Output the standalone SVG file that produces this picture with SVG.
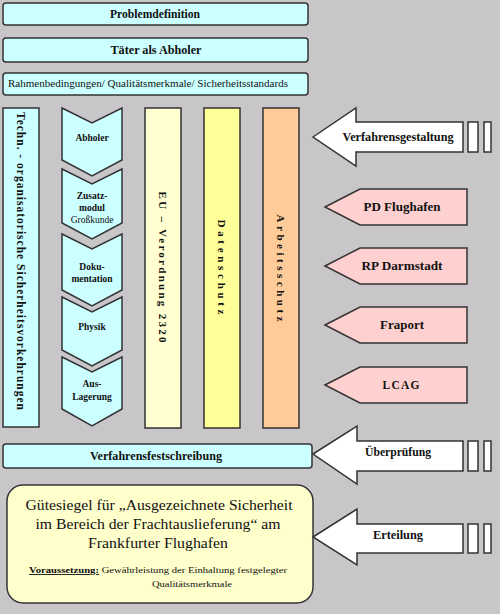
<svg xmlns="http://www.w3.org/2000/svg" width="500" height="614" viewBox="0 0 500 614">
<style>
.bg{fill:#C9C6C9}
.box{stroke:#333;stroke-width:1.5}
.cyan{fill:#CCFFFF}
.lyel{fill:#FFFFD2}
.yel{fill:#FFFF99}
.org{fill:#FFCC99}
.pink{fill:#FFD0D0}
.wht{fill:#FFFFFF}
.cream{fill:#FFFFCC}
text{font-family:'Liberation Serif','Times New Roman',serif;fill:#111;text-anchor:middle}
.b{font-weight:bold}
.vt{font-weight:bold;dominant-baseline:central}
</style>
<rect class="bg" x="0" y="0" width="500" height="614"/>

<g id="problemdefinition">
<rect class="box cyan" x="3" y="3" width="305" height="22" rx="3"/>
<text class="b" x="155" y="18" font-size="12" textLength="90" lengthAdjust="spacingAndGlyphs">Problemdefinition</text>
</g>
<g id="taeter">
<rect class="box cyan" x="3" y="38" width="305" height="24" rx="3"/>
<text class="b" x="156" y="54" font-size="12" textLength="91" lengthAdjust="spacingAndGlyphs">Täter als Abholer</text>
</g>
<g id="rahmen">
<rect class="box cyan" x="3" y="73" width="305" height="22" rx="3"/>
<text x="148" y="87" font-size="9.5" textLength="280" lengthAdjust="spacingAndGlyphs">Rahmenbedingungen/ Qualitätsmerkmale/ Sicherheitsstandards</text>
</g>

<g id="techn">
<rect class="box cyan" x="3" y="108" width="36" height="319"/>
<text class="vt" transform="translate(21,261) rotate(90)" font-size="11.5" textLength="298" lengthAdjust="spacing">Techn. - organisatorische Sicherheitsvorkehrungen</text>
</g>

<g id="abholer">
<path class="box cyan" d="M62,108 L92,123 L122,108 L122,160 L92,176 L62,160 Z"/>
<text class="b" x="92" y="141" font-size="9.5">Abholer</text>
</g>
<g id="zusatzmodul">
<path class="box cyan" d="M62,169 L92,184 L122,169 L122,223 L92,239 L62,223 Z"/>
<text class="b" x="92" y="199" font-size="9.5">Zusatz-</text>
<text class="b" x="92" y="211" font-size="9.5">modul</text>
<text x="92" y="223" font-size="9.5">Großkunde</text>
</g>
<g id="dokumentation">
<path class="box cyan" d="M62,234 L92,249 L122,234 L122,290 L92,306 L62,290 Z"/>
<text class="b" x="92" y="270" font-size="9.5">Doku-</text>
<text class="b" x="92" y="282" font-size="9.5">mentation</text>
</g>
<g id="physik">
<path class="box cyan" d="M62,297 L92,312 L122,297 L122,350 L92,366 L62,350 Z"/>
<text class="b" x="92" y="330" font-size="9.5">Physik</text>
</g>
<g id="auslagerung">
<path class="box cyan" d="M62,357 L92,372 L122,357 L122,409 L92,426 L62,409 Z"/>
<text class="b" x="92" y="387" font-size="9.5">Aus-</text>
<text class="b" x="92" y="400" font-size="9.5">Lagerung</text>
</g>

<g id="eu">
<rect class="box lyel" x="145" y="108" width="36" height="320"/>
<text class="vt" transform="translate(163,267) rotate(90)" font-size="11" textLength="151" lengthAdjust="spacing">EU – Verordnung  2320</text>
</g>
<g id="datenschutz">
<rect class="box yel" x="204" y="108" width="36" height="320"/>
<text class="vt" transform="translate(222,267) rotate(90)" font-size="11" textLength="95" lengthAdjust="spacing">Datenschutz</text>
</g>
<g id="arbeitsschutz">
<rect class="box org" x="263" y="108" width="36" height="320"/>
<text class="vt" transform="translate(281,268) rotate(90)" font-size="11" textLength="107" lengthAdjust="spacing">Arbeitsschutz</text>
</g>

<g id="verfahrensgestaltung">
<path class="box wht" d="M313,137 L356,108 L356,122 L463,122 L463,152 L356,152 L356,166 Z"/>
<rect class="box wht" x="468" y="122" width="10" height="30"/>
<rect class="box wht" x="484" y="122" width="7" height="30"/>
<text class="b" x="398" y="141" font-size="11.5" textLength="111" lengthAdjust="spacingAndGlyphs">Verfahrensgestaltung</text>
</g>

<g id="pd">
<path class="box pink" d="M325,207 L360,189 L467,189 L467,225 L360,225 Z"/>
<text class="b" x="402" y="211" font-size="11.5" textLength="77" lengthAdjust="spacingAndGlyphs">PD Flughafen</text>
</g>
<g id="rp">
<path class="box pink" d="M325,266 L360,248 L467,248 L467,284 L360,284 Z"/>
<text class="b" x="402" y="270" font-size="11.5" textLength="81" lengthAdjust="spacingAndGlyphs">RP Darmstadt</text>
</g>
<g id="fraport">
<path class="box pink" d="M325,325 L360,307 L467,307 L467,343 L360,343 Z"/>
<text class="b" x="402" y="329" font-size="11.5" textLength="44" lengthAdjust="spacingAndGlyphs">Fraport</text>
</g>
<g id="lcag">
<path class="box pink" d="M325,385 L360,367 L467,367 L467,403 L360,403 Z"/>
<text class="b" x="401" y="389" font-size="11.5" textLength="37" lengthAdjust="spacing">LCAG</text>
</g>

<g id="verfahrensfestschreibung">
<rect class="box cyan" x="3" y="444" width="309" height="24" rx="3"/>
<text class="b" x="156" y="460" font-size="11.5" textLength="132" lengthAdjust="spacingAndGlyphs">Verfahrensfestschreibung</text>
</g>

<g id="ueberpruefung">
<path class="box wht" d="M313,454 L357,426 L357,441 L463,441 L463,471 L357,471 L357,484 Z"/>
<rect class="box wht" x="468" y="441" width="10" height="30"/>
<rect class="box wht" x="484" y="441" width="7" height="30"/>
<text class="b" x="398" y="456" font-size="11.5" textLength="66" lengthAdjust="spacingAndGlyphs">Überprüfung</text>
</g>

<g id="guetesiegel">
<rect class="box cream" x="7" y="485" width="306" height="118" rx="16"/>
<text x="159" y="510" font-size="15.5" textLength="267" lengthAdjust="spacingAndGlyphs">Gütesiegel für „Ausgezeichnete Sicherheit</text>
<text x="158" y="529" font-size="15.5" textLength="245" lengthAdjust="spacingAndGlyphs">im Bereich der Frachtauslieferung“ am</text>
<text x="158" y="548" font-size="15.5" textLength="140" lengthAdjust="spacingAndGlyphs">Frankfurter Flughafen</text>
<text x="158" y="573" font-size="9" textLength="258" lengthAdjust="spacingAndGlyphs"><tspan font-weight="bold" text-decoration="underline">Voraussetzung:</tspan> Gewährleistung der Einhaltung  festgelegter</text>
<text x="192" y="587" font-size="9" textLength="80" lengthAdjust="spacingAndGlyphs">Qualitätsmerkmale</text>
</g>

<g id="erteilung">
<path class="box wht" d="M313,537 L357,509 L357,524 L463,524 L463,553 L357,553 L357,565 Z"/>
<rect class="box wht" x="468" y="524" width="10" height="29"/>
<rect class="box wht" x="484" y="524" width="7" height="29"/>
<text class="b" x="398" y="539" font-size="11.5" textLength="50" lengthAdjust="spacingAndGlyphs">Erteilung</text>
</g>
</svg>
